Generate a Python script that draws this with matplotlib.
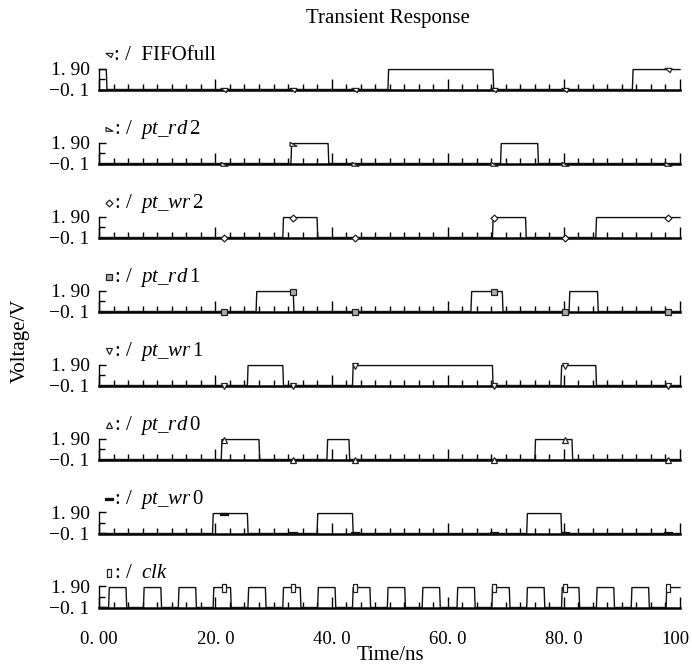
import numpy as np
import matplotlib
matplotlib.use("Agg")
import matplotlib.pyplot as plt
from matplotlib.ticker import MultipleLocator, FixedLocator
from matplotlib.path import Path
from matplotlib.transforms import ScaledTranslation

plt.rcParams['font.family'] = ['Liberation Serif', 'DejaVu Serif']
plt.rcParams['mathtext.fontset'] = 'custom'
plt.rcParams['mathtext.rm'] = 'Liberation Serif'
plt.rcParams['mathtext.it'] = 'Liberation Serif:italic'

# ---------------- data ----------------
signal_names = ["FIFOfull", "pt_rd2", "pt_wr2", "pt_rd1", "pt_wr1", "pt_rd0", "pt_wr0", "clk"]
label_texts = [
    r": /  FIFOfull",
    r": /  $\mathit{pt\_rd}\,$2",
    r": /  $\mathit{pt\_wr}\,$2",
    r": /  $\mathit{pt\_rd}\,$1",
    r": /  $\mathit{pt\_wr}\,$1",
    r": /  $\mathit{pt\_rd}\,$0",
    r": /  $\mathit{pt\_wr}\,$0",
    r": /  $\mathit{clk}$",
]
# high intervals (start, end) in ns
fifofull_high = [(0.0, 1.2), (49.7, 67.8), (91.8, 100.0)]
pt_rd2_high = [(33.0, 39.4), (69.1, 75.5)]
pt_wr2_high = [(31.6, 37.5), (67.7, 73.4), (85.5, 100.0)]
pt_rd1_high = [(27.0, 33.4), (64.0, 69.4), (80.9, 85.8)]
pt_wr1_high = [(25.5, 31.6), (43.6, 67.7), (79.5, 85.5)]
pt_rd0_high = [(21.0, 27.5), (39.2, 43.0), (75.0, 81.4)]
pt_wr0_high = [(19.5, 25.5), (37.5, 43.6), (73.6, 79.5)]
clk_rise = [1.6, 7.6, 13.6, 19.6, 25.6, 31.6, 37.6, 43.6, 49.6, 55.6, 61.6,
            67.6, 73.6, 79.6, 85.6, 91.6, 97.6]
clk_fall = [4.6, 10.6, 16.6, 22.6, 28.6, 34.6, 40.6, 46.6, 52.6, 58.6, 64.6,
            70.6, 76.6, 82.6, 88.6, 94.6, 100.0]
clk_high = list(zip(clk_rise, clk_fall))

all_high = [fifofull_high, pt_rd2_high, pt_wr2_high, pt_rd1_high,
            pt_wr1_high, pt_rd0_high, pt_wr0_high, clk_high]

marker_times = [21.4, 33.3, 44.0, 68.0, 80.2, 97.9]
v_high = 1.8
v_low = -0.1

y_ticks = [-0.1, 1.9]
y_ticklabels = ["\u22120. 1", "1. 90"]
x_ticks = [0, 20, 40, 60, 80, 100]
x_ticklabels = ["0. 00", "20. 0", "40. 0", "60. 0", "80. 0", "100"]

# ---------------- markers ----------------
m_fifo = Path([(-1, 0.6), (1, 0.6), (0.5, -0.6), (-1, 0.6)],
              [Path.MOVETO, Path.LINETO, Path.LINETO, Path.CLOSEPOLY])
m_rd2 = Path([(-1, 0.6), (1, -0.5), (-1, -0.5), (-1, 0.6)],
             [Path.MOVETO, Path.LINETO, Path.LINETO, Path.CLOSEPOLY])
m_bar_h = Path([(-1, -0.35), (1, -0.35), (1, 0.35), (-1, 0.35), (-1, -0.35)],
               [Path.MOVETO, Path.LINETO, Path.LINETO, Path.LINETO, Path.CLOSEPOLY])
m_bar_v = Path([(-0.45, -1), (0.45, -1), (0.45, 1), (-0.45, 1), (-0.45, -1)],
               [Path.MOVETO, Path.LINETO, Path.LINETO, Path.LINETO, Path.CLOSEPOLY])
marker_styles = [
    dict(marker=m_fifo, ms=5, mfc='white', mec='#222222'),
    dict(marker=m_rd2, ms=5, mfc='white', mec='#222222'),
    dict(marker='D', ms=3.5, mfc='white', mec='#222222'),
    dict(marker='s', ms=4, mfc='#aaaaaa', mec='#222222'),
    dict(marker='v', ms=5, mfc='white', mec='#222222'),
    dict(marker='^', ms=5, mfc='white', mec='#222222'),
    dict(marker=m_bar_h, ms=6, mfc='#111111', mec='#111111'),
    dict(marker=m_bar_v, ms=6, mfc='white', mec='#222222'),
]


def waveform(intervals, tr=0.12):
    xs, ys = [0.0], [v_low]
    for (a, b) in intervals:
        if a <= 0:
            xs, ys = [0.0], [v_high]
        else:
            xs += [a, a + tr]
            ys += [v_low, v_high]
        if b >= 100:
            xs.append(100.0)
            ys.append(v_high)
        else:
            xs += [b, b + tr]
            ys += [v_high, v_low]
    if xs[-1] < 100:
        xs.append(100.0)
        ys.append(ys[-1])
    return np.array(xs), np.array(ys)


W, H = 692, 667
fig = plt.figure(figsize=(W / 100, H / 100), dpi=100)

left_px, right_px = 99.3, 680.0
for i, (name, lab, hi, ms) in enumerate(zip(signal_names, label_texts, all_high, marker_styles)):
    base_px = 89.5 + 74 * i
    top_px = base_px - 21
    ax = fig.add_axes([left_px / W, 1 - base_px / H, (right_px - left_px) / W, 21 / H])
    ax.set_xlim(0, 100)
    ax.set_ylim(-0.1, 1.9)
    xs, ys = waveform(hi)
    ax.plot(xs, ys, color='#111111', lw=1.0, clip_on=False, zorder=3)
    my = np.interp(marker_times, xs, ys)
    ax.plot(marker_times, my, ls='none', clip_on=False, zorder=4, mew=0.9, **ms)
    for s in ['top', 'right']:
        ax.spines[s].set_visible(False)
    ax.spines['bottom'].set_linewidth(1.8)
    ax.spines['left'].set_linewidth(1.0)
    ax.spines['left'].set_bounds(-0.1, 1.9)
    ax.set_yticks(y_ticks)
    ax.set_yticklabels(y_ticklabels, fontsize=14)
    ax.yaxis.set_minor_locator(FixedLocator([0.9]))
    ax.tick_params(axis='y', which='major', direction='in', length=5, width=1.0, pad=7)
    ax.tick_params(axis='y', which='minor', direction='in', length=4, width=1.0)
    ax.set_xticks(x_ticks)
    ax.xaxis.set_minor_locator(MultipleLocator(2.5))
    ax.tick_params(axis='x', which='major', direction='in', length=8, width=1.0, pad=17)
    ax.tick_params(axis='x', which='minor', direction='in', length=4, width=1.0)
    if i == len(signal_names) - 1:
        ax.set_xticklabels(x_ticklabels, fontsize=13.5)
        last = ax.get_xticklabels()[-1]
        last.set_transform(last.get_transform() +
                           ScaledTranslation(-5 / 100, 0, fig.dpi_scale_trans))
    else:
        ax.set_xticklabels([])
    ax.patch.set_visible(False)
    # legend-like label
    ly_px = top_px - 13.5
    fig.add_artist(plt.Line2D([108.5 / W], [1 - ly_px / H], ls='none',
                              transform=fig.transFigure, mew=0.9, **ms))
    fig.text(114 / W, 1 - (top_px - 8.5) / H, lab, fontsize=15, va='baseline', ha='left')

fig.text(388 / W, 1 - 18 / H, "Transient Response", fontsize=15, ha='center', va='center')
fig.text(20 / W, 1 - 341 / H, "Voltage/V", fontsize=15, rotation=90, ha='center', va='center')
fig.text(390 / W, 1 - 656 / H, "Time/ns", fontsize=15, ha='center', va='center')

fig.savefig("out.png", dpi=100)
